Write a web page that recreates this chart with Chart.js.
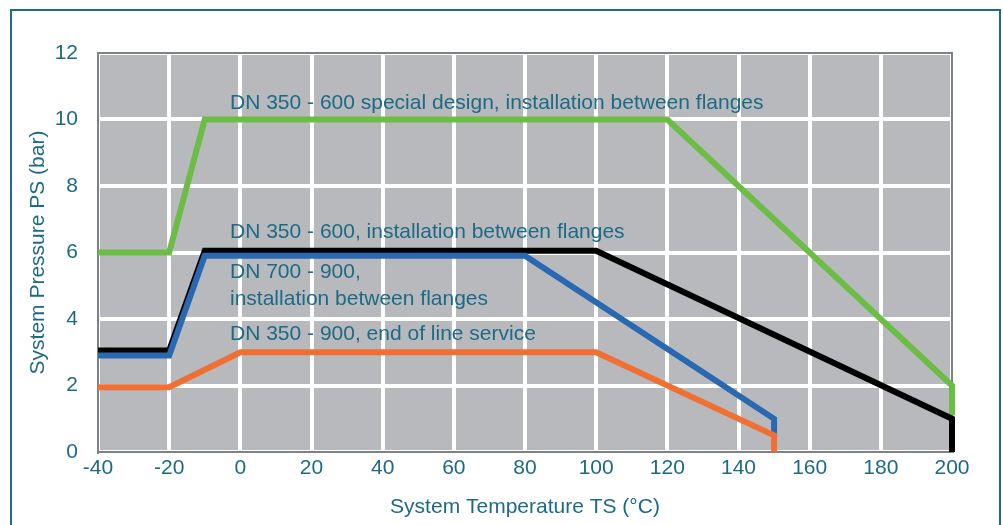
<!doctype html>
<html lang="en">
<head>
<meta charset="UTF-8">
<title>Pressure / temperature</title>
<style>
  html, body { margin: 0; padding: 0; background: #fff; overflow: hidden; }
  #frame { position: absolute; left: 10px; top: 9px; width: 987px; height: 600px; border: 2px solid #1f6b85; }
  #wrap { position: absolute; left: 0; top: 0; width: 1003px; height: 525px; }
</style>
</head>
<body>
<div id="frame"></div>
<div id="wrap"><canvas id="chart" width="1003" height="525"></canvas></div>

<script src="https://cdn.jsdelivr.net/npm/chart.js@4/dist/chart.umd.min.js"></script>
<script>
// values
const greenTemp = [-40, -20, -10, 120, 200, 200];
const greenPs   = [6, 6, 10, 10, 2, 1.1];
const blackTemp = [-40, -20, -10, 100, 200, 200];
const blackPs   = [3.05, 3.05, 6.05, 6.05, 1, 0];
const blueTemp  = [-40, -20, -10, 80, 150, 150];
const bluePs    = [2.9, 2.9, 5.9, 5.9, 1, 0.5];
const orangeTemp = [-40, -20, 0, 100, 150, 150];
const orangePs   = [1.95, 1.95, 3, 3, 0.5, 0];

const labels = [
  { t: -2.9, p: 10.5, text: 'DN 350 - 600 special design, installation between flanges' },
  { t: -2.9, p: 6.6, text: 'DN 350 - 600, installation between flanges' },
  { t: -2.9, p: 5.4, text: 'DN 700 - 900,' },
  { t: -2.9, p: 4.6, text: 'installation between flanges' },
  { t: -2.9, p: 3.55, text: 'DN 350 - 900, end of line service' }
];

const teal = '#1d6a86';
const pts = (xs, ys) => xs.map((x, i) => ({ x: x, y: ys[i] }));

const plotBg = {
  id: 'plotBg',
  beforeDraw(chart) {
    const a = chart.chartArea, c = chart.ctx;
    c.save();
    c.fillStyle = '#b8b9bc';
    c.fillRect(a.left, a.top, a.right - a.left, a.bottom - a.top);
    c.restore();
  },
  beforeDatasetsDraw(chart) {
    const a = chart.chartArea, c = chart.ctx;
    c.save();
    c.strokeStyle = '#7d8284';
    c.lineWidth = 2;
    c.strokeRect(a.left, a.top, a.right - a.left, a.bottom - a.top);
    c.restore();
  }
};

const notes = {
  id: 'notes',
  afterDatasetsDraw(chart) {
    const c = chart.ctx, xs = chart.scales.x, ys = chart.scales.y;
    c.save();
    c.font = '21px "Liberation Sans", Arial, sans-serif';
    c.fillStyle = teal;
    c.textBaseline = 'middle';
    labels.forEach(l => c.fillText(l.text, xs.getPixelForValue(l.t), ys.getPixelForValue(l.p)));
    c.restore();
  }
};

const line = (data, color) => ({
  data: data,
  borderColor: color,
  borderWidth: 6,
  pointRadius: 0,
  fill: false,
  tension: 0,
  borderJoinStyle: 'miter',
  borderCapStyle: 'butt',
  clip: 8
});

Chart.defaults.font.family = '"Liberation Sans", Arial, sans-serif';
Chart.defaults.font.size = 21;
Chart.defaults.color = teal;

new Chart(document.getElementById('chart'), {
  type: 'line',
  data: {
    datasets: [
      line(pts(orangeTemp, orangePs), '#f07033'),
      line(pts(blueTemp, bluePs), '#2a69b1'),
      line(pts(blackTemp, blackPs), '#000000'),
      line(pts(greenTemp, greenPs), '#6cbd45')
    ]
  },
  options: {
    responsive: false,
    animation: false,
    layout: { padding: { left: 22, top: 53, right: 51, bottom: 1 } },
    plugins: { legend: { display: false }, tooltip: { enabled: false } },
    scales: {
      x: {
        type: 'linear', min: -40, max: 200,
        ticks: { stepSize: 20, padding: 4 },
        grid: { color: '#ffffff', lineWidth: 4, drawTicks: false },
        border: { display: true, color: '#7d8284', width: 2 },
        title: { display: true, text: 'System Temperature TS (°C)' },
        afterFit(s) { s.height = 72; }
      },
      y: {
        min: 0, max: 12,
        ticks: { stepSize: 2, padding: 20 },
        grid: { color: '#ffffff', lineWidth: 4, drawTicks: false },
        border: { display: true, color: '#7d8284', width: 2 },
        title: { display: true, text: 'System Pressure PS (bar)' },
        afterFit(s) { s.width = 76; }
      }
    }
  },
  plugins: [plotBg, notes]
});
</script>
</body>
</html>
